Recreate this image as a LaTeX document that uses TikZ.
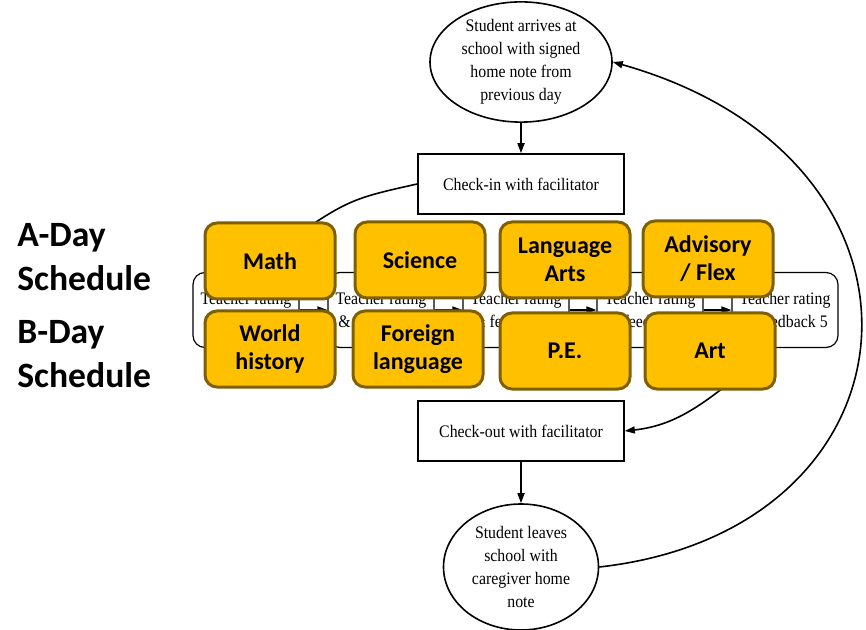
\documentclass[tikz,border=0pt]{standalone}
\usepackage{fontspec}
\setmainfont{Liberation Serif}[FakeStretch=0.9]
\newfontfamily\calibri{Carlito}
\usetikzlibrary{shapes.geometric,arrows.meta}
\definecolor{subjfill}{HTML}{FFC000}
\definecolor{subjline}{HTML}{7F6000}

\begin{document}
\begin{tikzpicture}
[x=.5pt,y=-.5pt]
\tikzset{oval/.style={ellipse,draw,line width=.8pt,inner sep=0pt,align=center,font=\fontsize{8.8}{11.5}\selectfont},
  box/.style={rectangle,draw,line width=.8pt,minimum width=103pt,minimum height=30pt,font=\fontsize{8.8}{11.5}\selectfont},
  rate/.style={rectangle,rounded corners=6pt,draw,line width=.6pt,minimum width=53pt,minimum height=37.5pt,inner sep=0pt,align=center,font=\fontsize{8.8}{11.5}\selectfont},
  subj/.style={rectangle,rounded corners=6pt,draw=subjline,fill=subjfill,line width=1.5pt,minimum width=65pt,minimum height=38pt,align=center,font=\calibri\bfseries\fontsize{12}{14}\selectfont},
  day/.style={anchor=west,inner sep=0pt,align=left,font=\calibri\bfseries\fontsize{17.8}{22}\selectfont},
  arr/.style={-{Triangle[length=5pt,width=3.5pt]},line width=.8pt}}
\useasboundingbox (0,0) rectangle (866,630);

\node [oval,minimum width=91pt,minimum height=58pt] (arrive) at (521,62) {Student arrives at\\school with signed\\home note from\\previous day};
\node [box] (checkin) at (521,184) {Check-in with facilitator};
\node [box] (checkout) at (521,431) {Check-out with facilitator};
\node [oval,minimum width=77.5pt,minimum height=63pt] (leave) at (521,567) {Student leaves\\school with\\caregiver home\\note};

\foreach \n/\x in {1/246,2/381,3/516,4/650,5/785}
	\node [rate] (r\n) at (\x,310) {Teacher rating\\\& feedback \n};

\foreach \from/\to in {arrive/checkin,checkout/leave,r1/r2,r2/r3,r3/r4,r4/r5}
	\draw [arr] (\from) -- (\to);
\draw [arr] (checkin.west) .. controls (345,200) .. (r1.north);
\draw [arr] (r5.250) .. controls (710,400) and (680,425) .. (checkout.east);
\draw [arr] (leave.east) .. controls (930,530) and (960,160) .. (arrive.east);

\node [subj] (math) at (270,261) {Math};
\node [subj] (sci) at (420,260) {Science};
\node [subj] (lang) at (565,260) {Language\\Arts};
\node [subj] (adv) at (708,259) {Advisory\\/ Flex};
\node [subj] (hist) at (270,349) {World\\history};
\node [subj] (forlang) at (418,349) {Foreign\\language};
\node [subj] (pe) at (565,351) {P.E.};
\node [subj] (art) at (710,351) {Art};

\node [day] (aday) at (17,257) {A-Day\\Schedule};
\node [day] (bday) at (17,354) {B-Day\\Schedule};

\end{tikzpicture}
\end{document}
